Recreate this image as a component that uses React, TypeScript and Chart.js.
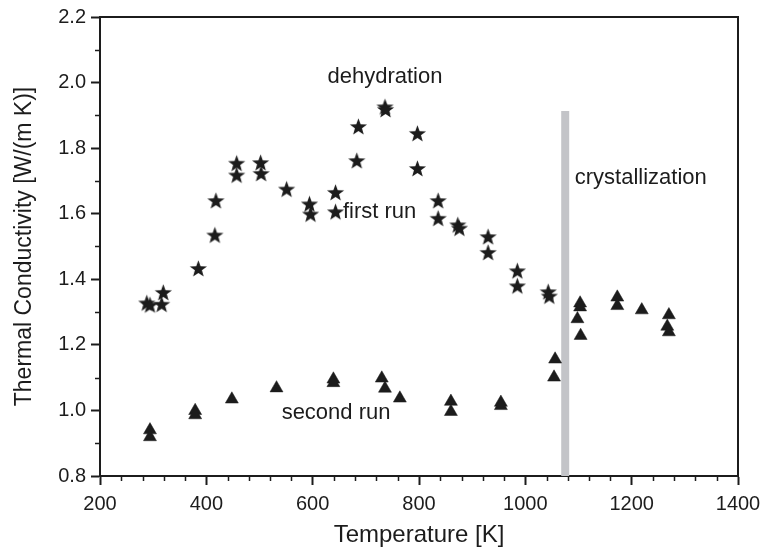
import React, { useEffect, useRef } from "react";
import { Chart, registerables } from "chart.js";

Chart.register(...registerables);

// First run (stars): temperature [K], thermal conductivity [W/(m K)]
const firstRunT = [288, 294, 316, 319, 385, 416, 418, 457, 457, 502, 503, 551, 594, 596, 643, 643, 683, 686, 736, 737, 797, 797, 836, 836, 873, 876, 930, 930, 985, 985, 1043, 1045];
const firstRunK = [1.328, 1.322, 1.324, 1.36, 1.433, 1.535, 1.64, 1.754, 1.718, 1.756, 1.723, 1.675, 1.63, 1.599, 1.665, 1.606, 1.762, 1.866, 1.926, 1.918, 1.845, 1.738, 1.64, 1.586, 1.566, 1.556, 1.53, 1.482, 1.426, 1.38, 1.362, 1.349];

// Second run (triangles)
const secondRunT = [294, 294, 379, 379, 448, 532, 639, 639, 730, 736, 764, 860, 860, 954, 954, 1056, 1054, 1103, 1103, 1098, 1104, 1173, 1173, 1219, 1270, 1267, 1270];
const secondRunK = [0.94, 0.919, 0.999, 0.986, 1.034, 1.068, 1.095, 1.084, 1.098, 1.067, 1.037, 1.027, 0.996, 1.024, 1.014, 1.156, 1.101, 1.327, 1.315, 1.279, 1.228, 1.345, 1.319, 1.306, 1.291, 1.256, 1.239];

// Crystallization marker (vertical grey bar)
const crystT = [1075, 1075];
const crystK = [0.8, 1.913];

// Axis settings
const xMin = 200, xMax = 1400, xStep = 200, xMinorStep = 40;
const yMin = 0.8, yMax = 2.2, yStep = 0.2, yMinorStep = 0.1;

// Text annotations placed in data coordinates
const noteText = ["dehydration", "first run", "second run", "crystallization"];
const noteT = [736, 657, 644, 1093];
const noteK = [2.018, 1.606, 0.991, 1.709];
const noteAlign: CanvasTextAlign[] = ["center", "left", "center", "left"];

const INK = "#1c1c1c";
const FONT = "'Liberation Sans', Arial, Helvetica, sans-serif";

function makeStar(): HTMLCanvasElement {
  const size = 19;
  const c = document.createElement("canvas");
  c.width = size;
  c.height = size;
  const ctx = c.getContext("2d")!;
  const cx = size / 2, cy = size / 2 + 0.7;
  const ro = 9, ri = 3.7;
  ctx.beginPath();
  for (let i = 0; i < 10; i++) {
    const r = i % 2 === 0 ? ro : ri;
    const a = -Math.PI / 2 + (i * Math.PI) / 5;
    const px = cx + r * Math.cos(a);
    const py = cy + r * Math.sin(a);
    if (i === 0) ctx.moveTo(px, py);
    else ctx.lineTo(px, py);
  }
  ctx.closePath();
  ctx.fillStyle = INK;
  ctx.fill();
  return c;
}

const framePlugin = {
  id: "frameAndNotes",
  afterDatasetsDraw(chart: any) {
    const { ctx, chartArea, scales } = chart;
    const xs = scales.x, ys = scales.y;
    ctx.save();
    // top and right frame lines
    ctx.strokeStyle = INK;
    ctx.lineWidth = 2;
    ctx.beginPath();
    ctx.moveTo(chartArea.left - 1, chartArea.top);
    ctx.lineTo(chartArea.right, chartArea.top);
    ctx.lineTo(chartArea.right, chartArea.bottom + 1);
    ctx.stroke();
    // minor ticks
    ctx.lineWidth = 1.5;
    ctx.beginPath();
    for (let v = xMin; v <= xMax + 1e-9; v += xMinorStep) {
      if (Math.abs(v / xStep - Math.round(v / xStep)) < 1e-6) continue;
      const px = Math.round(xs.getPixelForValue(v)) + 0.5;
      ctx.moveTo(px, chartArea.bottom);
      ctx.lineTo(px, chartArea.bottom + 5);
    }
    for (let v = yMin; v <= yMax + 1e-9; v += yMinorStep) {
      const r = v / yStep;
      if (Math.abs(r - Math.round(r)) < 1e-6) continue;
      const py = Math.round(ys.getPixelForValue(v)) + 0.5;
      ctx.moveTo(chartArea.left, py);
      ctx.lineTo(chartArea.left - 5, py);
    }
    ctx.stroke();
    // annotations
    ctx.fillStyle = INK;
    ctx.font = `22px ${FONT}`;
    ctx.textBaseline = "middle";
    noteText.forEach((t, i) => {
      ctx.textAlign = noteAlign[i];
      ctx.fillText(t, xs.getPixelForValue(noteT[i]), ys.getPixelForValue(noteK[i]));
    });
    ctx.restore();
  },
};

export default function App() {
  const ref = useRef<HTMLCanvasElement>(null);
  useEffect(() => {
    if (!ref.current) return;
    const star = makeStar();
    const chart = new Chart(ref.current, {
      type: "scatter",
      data: {
        datasets: [
          {
            label: "crystallization",
            data: crystT.map((x, i) => ({ x, y: crystK[i] })),
            showLine: true,
            borderColor: "#c3c4c8",
            borderWidth: 8,
            borderCapStyle: "butt",
            pointRadius: 0,
            order: 3,
          },
          {
            label: "first run",
            data: firstRunT.map((x, i) => ({ x, y: firstRunK[i] })),
            pointStyle: star,
            pointRadius: 9,
            backgroundColor: INK,
            borderColor: INK,
            order: 1,
          },
          {
            label: "second run",
            data: secondRunT.map((x, i) => ({ x, y: secondRunK[i] })),
            pointStyle: "triangle",
            pointRadius: 7.5,
            backgroundColor: INK,
            borderColor: INK,
            borderWidth: 0.5,
            order: 1,
          },
        ],
      },
      options: {
        animation: false,
        responsive: false,
        layout: { padding: { top: 17, right: 30, left: 0, bottom: 0 } },
        plugins: { legend: { display: false }, tooltip: { enabled: false } },
        scales: {
          x: {
            type: "linear",
            min: xMin,
            max: xMax,
            afterFit: (s: any) => {
              s.height = 76;
            },
            ticks: {
              stepSize: xStep,
              color: INK,
              font: { family: FONT, size: 20 },
              padding: 7,
              maxRotation: 0,
              callback: (v: any) => String(Math.round(Number(v))),
            },
            grid: {
              drawOnChartArea: false,
              drawTicks: true,
              tickLength: 9,
              tickColor: INK,
              tickWidth: 2,
            },
            border: { display: true, color: INK, width: 2 },
            title: {
              display: true,
              text: "Temperature [K]",
              color: INK,
              font: { family: FONT, size: 24 },
              padding: { top: 0, bottom: 2 },
            },
          },
          y: {
            type: "linear",
            min: yMin,
            max: yMax,
            afterFit: (s: any) => {
              s.width = 100;
            },
            ticks: {
              stepSize: yStep,
              color: INK,
              font: { family: FONT, size: 20 },
              padding: 5,
              callback: (v: any) => Number(v).toFixed(1),
            },
            grid: {
              drawOnChartArea: false,
              drawTicks: true,
              tickLength: 9,
              tickColor: INK,
              tickWidth: 2,
            },
            border: { display: true, color: INK, width: 2 },
            title: {
              display: true,
              text: "Thermal Conductivity [W/(m K)]",
              color: INK,
              font: { family: FONT, size: 23 },
              padding: { top: 10.5, bottom: 0 },
            },
          },
        },
      },
      plugins: [framePlugin],
    } as any);
    return () => chart.destroy();
  }, []);
  return (
    <div style={{ position: "absolute", left: 0, top: 0, width: 768, height: 552, background: "#fff" }}>
      <canvas ref={ref} width={768} height={552} />
    </div>
  );
}
